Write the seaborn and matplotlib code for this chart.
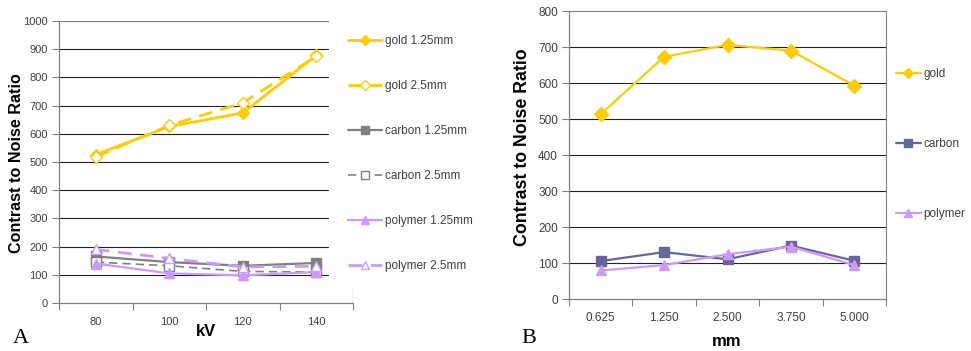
import numpy as np
import matplotlib
matplotlib.use("Agg")
import matplotlib.pyplot as plt
import seaborn as sns

# panel A: CNR vs tube voltage, two slice thicknesses
kv = ["80", "100", "120", "140"]
gold_125 = [526, 626, 674, 878]
gold_25 = [518, 630, 710, 875]
carbon_125 = [165, 145, 132, 142]
carbon_25 = [145, 132, 112, 110]
polymer_125 = [140, 105, 98, 110]
polymer_25 = [190, 158, 128, 130]

# panel B: CNR vs slice thickness
mm = ["0.625", "1.250", "2.500", "3.750", "5.000"]
gold_mm = [514, 673, 706, 690, 593]
carbon_mm = [106, 131, 111, 149, 107]
polymer_mm = [80, 95, 125, 146, 95]

GOLD = "#FFCC00"
GREY = "#808080"
SLATE = "#666699"
LILAC = "#CC99FF"
AXC = "#808080"
TXT = "#404040"

sns.set_style("white")
plt.rcParams["font.family"] = ["Liberation Sans", "DejaVu Sans"]

fig = plt.figure(figsize=(9.71, 3.51), dpi=100)
axA = fig.add_axes([59 / 971, 48 / 351, 294 / 971, 282 / 351])
axB = fig.add_axes([569 / 971, 51.7 / 351, 317 / 971, 288.3 / 351])

dash = (0, (5, 3))
seriesA = [
    (gold_125, "gold 1.25mm", GOLD, "D", GOLD, "-", 2.0),
    (gold_25, "gold 2.5mm", GOLD, "D", "white", dash, 2.0),
    (carbon_125, "carbon 1.25mm", GREY, "s", GREY, "-", 1.6),
    (carbon_25, "carbon 2.5mm", GREY, "s", "white", dash, 1.2),
    (polymer_125, "polymer 1.25mm", LILAC, "^", LILAC, "-", 1.6),
    (polymer_25, "polymer 2.5mm", LILAC, "^", "white", dash, 2.0),
]
for vals, lab, col, mk, fc, ls, lw in seriesA:
    sns.lineplot(x=kv, y=vals, ax=axA, sort=False, errorbar=None, label=lab,
                 color=col, marker=mk, ms=6.5, mfc=fc, mec=col, mew=1.0,
                 ls=ls, lw=lw)

seriesB = [
    (gold_mm, "gold", GOLD, "D"),
    (carbon_mm, "carbon", SLATE, "s"),
    (polymer_mm, "polymer", LILAC, "^"),
]
for vals, lab, col, mk in seriesB:
    sns.lineplot(x=mm, y=vals, ax=axB, sort=False, errorbar=None, label=lab,
                 color=col, marker=mk, ms=7, mfc=col, mec=col, mew=1.0, lw=1.6)


def style_axis(ax, cats, ymax, step, fs, xpad):
    n = len(cats)
    ax.set_xlim(-0.5, n - 0.5)
    ax.set_ylim(0, ymax)
    ax.set_yticks(np.arange(0, ymax + 1, step))
    ax.set_xticks(np.arange(n + 1) - 0.5)
    ax.set_xticks(np.arange(n), minor=True)
    ax.set_xticklabels(cats, minor=True)
    ax.tick_params(axis="x", which="major", length=5, width=0.8, color=AXC,
                   direction="out", labelbottom=False, bottom=True)
    ax.tick_params(axis="x", which="minor", length=0, pad=xpad,
                   labelsize=fs, labelcolor=TXT)
    ax.tick_params(axis="y", length=5, width=0.8, color=AXC, direction="out",
                   left=True, pad=3, labelsize=fs, labelcolor=TXT)
    for s in ["left", "bottom"]:
        ax.spines[s].set_color(AXC)
        ax.spines[s].set_linewidth(0.9)
    ax.spines["top"].set_visible(False)
    ax.spines["right"].set_visible(False)
    ax.grid(False)
    ax.set_xlabel("")
    ax.set_ylabel("")


style_axis(axA, kv, 1000, 100, 8, 10)
style_axis(axB, mm, 800, 100, 8.5, 9)

# gridlines; in A the legend box hides the right part of the plot area
gx = (328 - 59) / 294
for v in range(100, 1000, 100):
    axA.axhline(v, xmax=gx, color="#222222", lw=0.8, zorder=0)
axA.axhline(1000, xmax=gx, color=AXC, lw=0.9, zorder=0)
axA.axvline(3.5, ymax=0.053, color=AXC, lw=0.9)
for v in range(100, 800, 100):
    axB.axhline(v, color="#222222", lw=0.8, zorder=0)
axB.spines["top"].set_visible(True)
axB.spines["right"].set_visible(True)
axB.spines["top"].set_color(AXC)
axB.spines["right"].set_color(AXC)

axA.set_ylabel("Contrast to Noise Ratio", fontsize=11.6, fontweight="bold",
               color="black")
axA.yaxis.set_label_coords(-0.119, 0.495)
axB.set_ylabel("Contrast to Noise Ratio", fontsize=12.8, fontweight="bold",
               color="black")
axB.yaxis.set_label_coords(-0.12, 0.527)
fig.text(206 / 971, 1 - 336.5 / 351, "kV", fontsize=12, fontweight="bold",
         ha="center", va="baseline", color="black")
fig.text(727 / 971, 1 - 346.5 / 351, "mm", fontsize=12, fontweight="bold",
         ha="center", va="baseline", color="black")

hA, lA = axA.get_legend_handles_labels()
axA.get_legend().remove()
fig.legend(hA, lA, loc="upper left", bbox_to_anchor=(348 / 971, 1 - 35 / 351),
           frameon=False, borderpad=0, borderaxespad=0, handlelength=2.9,
           handletextpad=0.25, labelspacing=2.8, fontsize=8.5,
           labelcolor=TXT, markerscale=0.8)
hB, lB = axB.get_legend_handles_labels()
axB.get_legend().remove()
fig.legend(hB, lB, loc="upper left", bbox_to_anchor=(896 / 971, 1 - 68 / 351),
           frameon=False, borderpad=0, borderaxespad=0, handlelength=2.1,
           handletextpad=0.2, labelspacing=4.92, fontsize=8.5,
           labelcolor=TXT, markerscale=0.8)

fig.text(13 / 971, 1 - 343 / 351, "A", family=["Liberation Serif"],
         fontsize=16, va="baseline", color="black")
fig.text(521 / 971, 1 - 343 / 351, "B", family=["Liberation Serif"],
         fontsize=16, va="baseline", color="black")

fig.savefig("out.png", dpi=100)
